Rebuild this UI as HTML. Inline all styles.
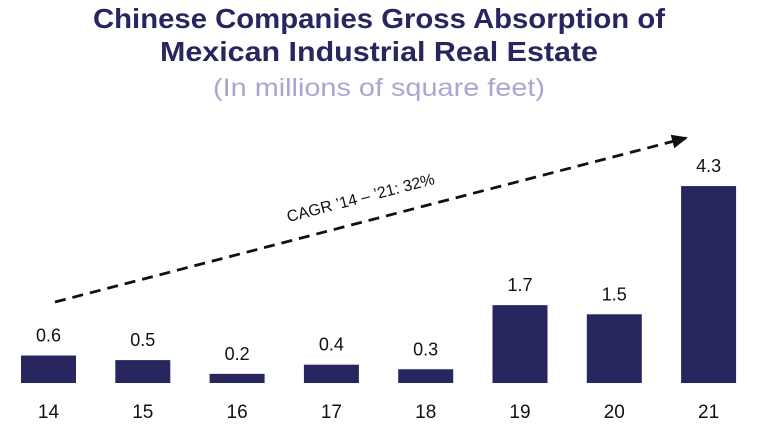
<!DOCTYPE html>
<html><head><meta charset="utf-8"><style>
body{margin:0;background:#fff;width:758px;height:434px;overflow:hidden;font-family:"Liberation Sans",sans-serif}
</style></head><body>
<svg width="758" height="434">
<text x="379" y="28" text-anchor="middle" font-size="28" font-weight="bold" fill="#27265e" textLength="572" lengthAdjust="spacingAndGlyphs">Chinese Companies Gross Absorption of</text>
<text x="379" y="61" text-anchor="middle" font-size="28" font-weight="bold" fill="#27265e" textLength="438" lengthAdjust="spacingAndGlyphs">Mexican Industrial Real Estate</text>
<text x="379" y="96" text-anchor="middle" font-size="25" fill="#a9a7d2" textLength="332" lengthAdjust="spacingAndGlyphs">(In millions of square feet)</text>
<defs><marker id="ah" markerWidth="16" markerHeight="14" refX="14" refY="7" orient="auto" markerUnits="userSpaceOnUse"><path d="M0,0 L16,7 L0,14z" fill="#111"/></marker></defs>
<line x1="55" y1="302" x2="686" y2="138" stroke="#111" stroke-width="2.8" stroke-dasharray="11,7" marker-end="url(#ah)"/>
<text x="362" y="203" text-anchor="middle" font-size="16" fill="#111" transform="rotate(-14.6 362 203)">CAGR ’14 – ’21: 32%</text>
<g id="bars"></g>
</svg>
<script>
const categories=["14","15","16","17","18","19","20","21"];
const values=[0.6,0.5,0.2,0.4,0.3,1.7,1.5,4.3];
const valueLabels=["0.6","0.5","0.2","0.4","0.3","1.7","1.5","4.3"];
const ns="http://www.w3.org/2000/svg";
const base=383,scale=45.8,x0=48.5,step=94.3,bw=55;
const xs=i=>x0+i*step, ys=v=>base-v*scale;
const g=document.getElementById("bars");
categories.forEach((c,i)=>{
 const r=document.createElementNS(ns,"rect");
 
 
 r.setAttribute("x",xs(i)-bw/2);r.setAttribute("y",ys(values[i]));
 r.setAttribute("width",bw);r.setAttribute("height",base-ys(values[i]));r.setAttribute("fill","#27265e");
 g.appendChild(r);
 const t=document.createElementNS(ns,"text");
 
 
 t.setAttribute("x",xs(i));t.setAttribute("y",ys(values[i])-14);t.setAttribute("text-anchor","middle");
 t.setAttribute("font-size","18");t.setAttribute("fill","#111");t.textContent=valueLabels[i];
 g.appendChild(t);
 const l=document.createElementNS(ns,"text");
 
 
 l.setAttribute("x",xs(i));l.setAttribute("y",418);l.setAttribute("text-anchor","middle");
 l.setAttribute("font-size","19");l.setAttribute("fill","#111");l.textContent=c;
 g.appendChild(l);
});
</script>
</body></html>
